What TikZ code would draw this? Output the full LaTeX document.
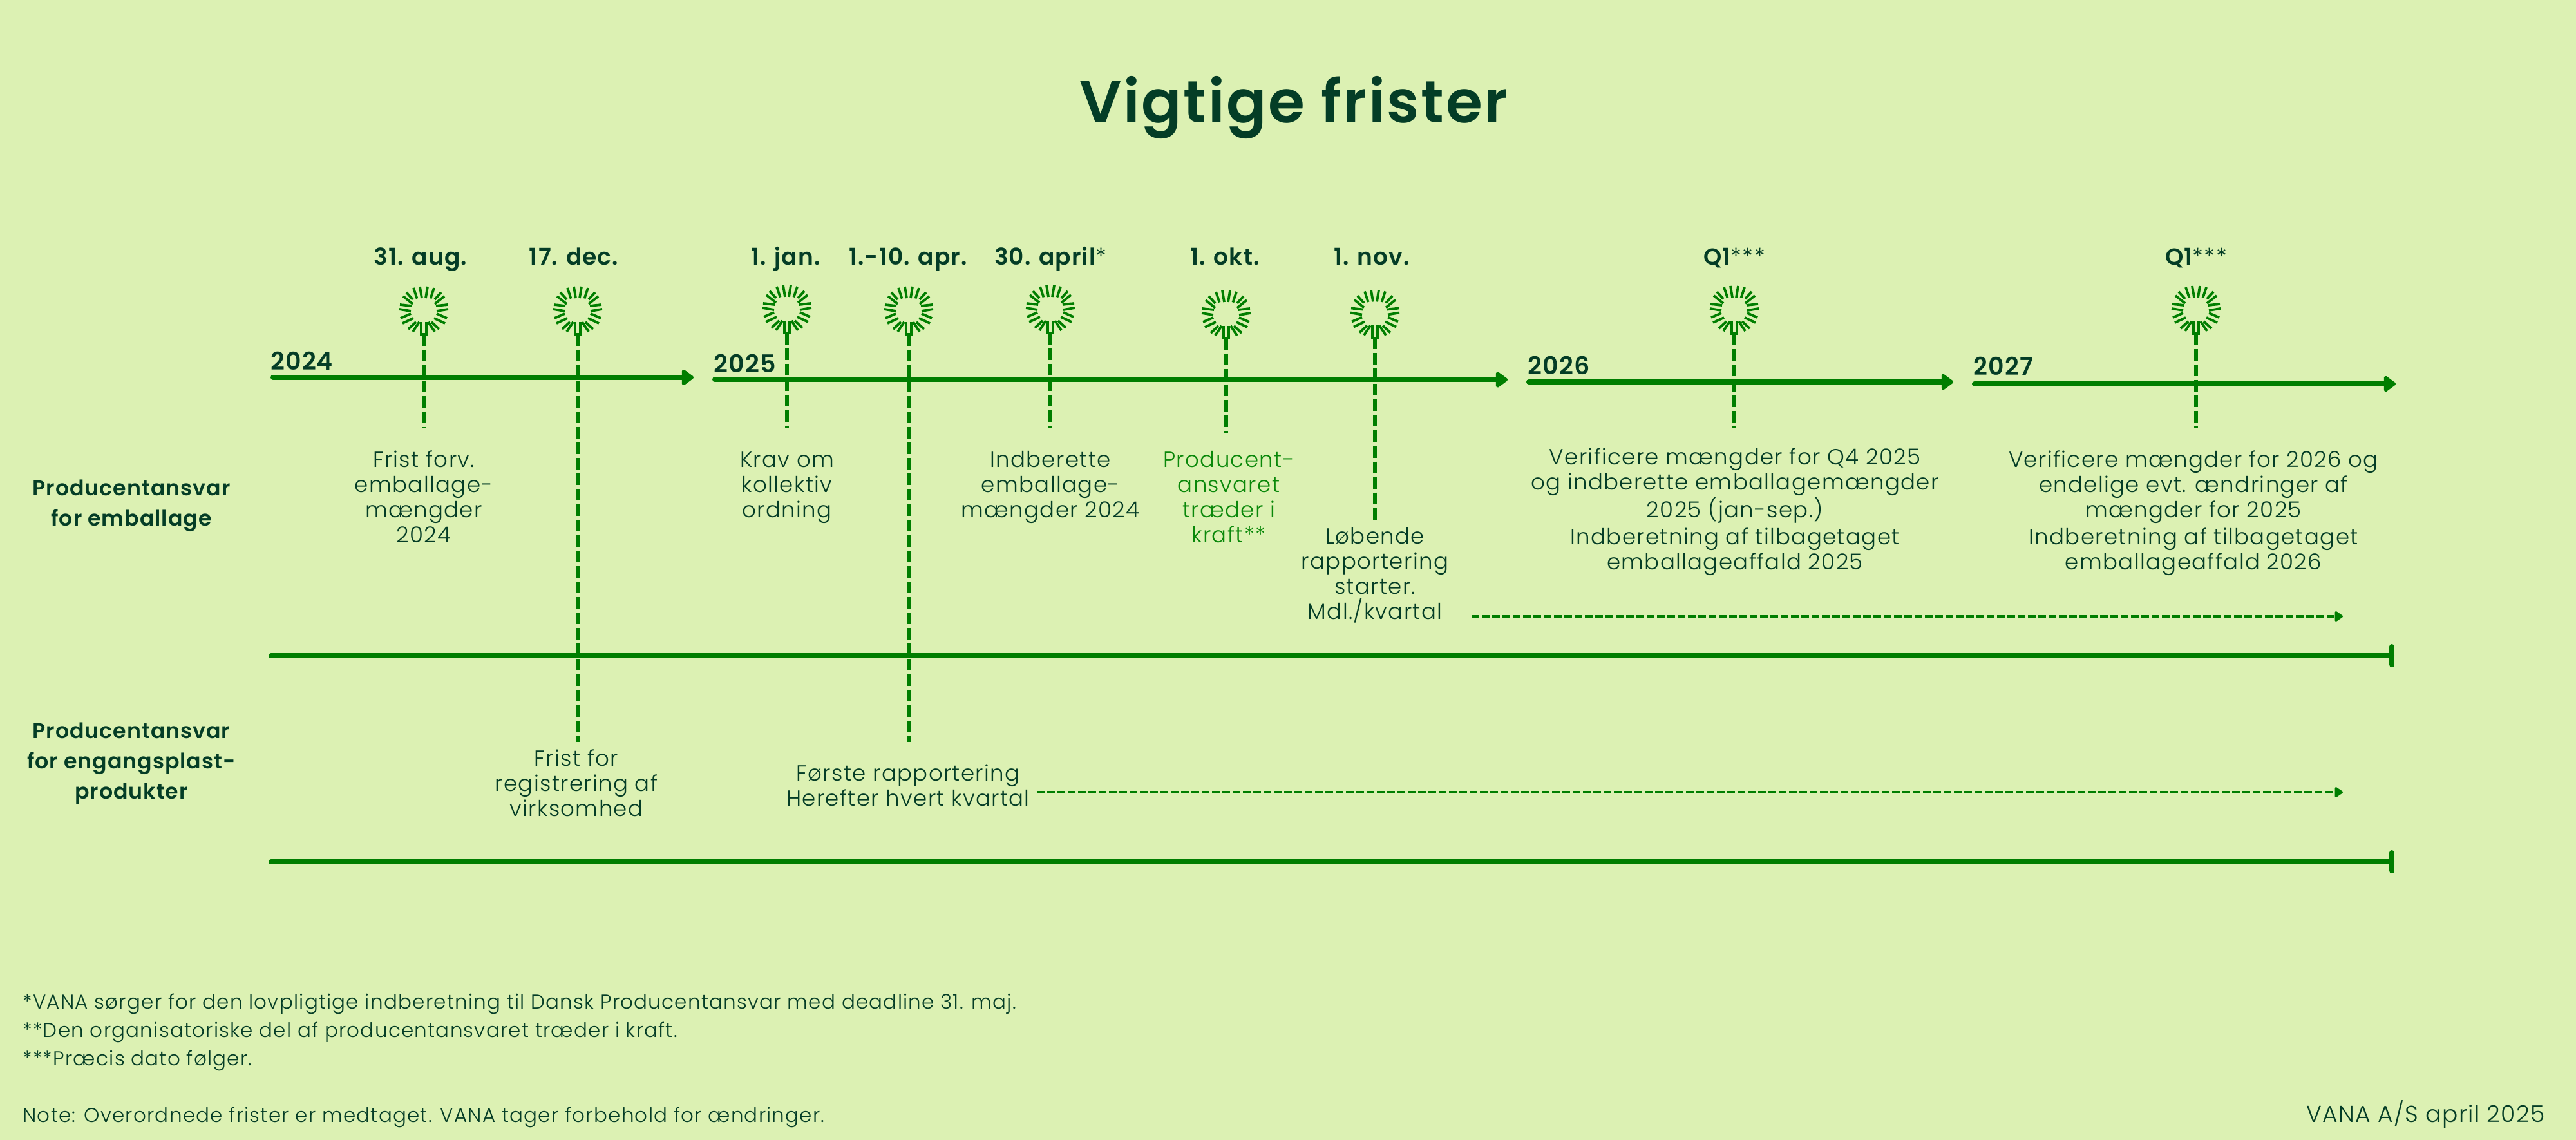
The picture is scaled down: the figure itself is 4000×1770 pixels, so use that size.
\documentclass[tikz,border=0pt]{standalone}
\usepackage{fontspec}
\usetikzlibrary{arrows.meta}
\newfontfamily\bodyfont[LetterSpace=4]{Poppins Light}
\newfontfamily\boldfont[LetterSpace=3]{Poppins SemiBold}
\newfontfamily\titlefont[LetterSpace=3]{Poppins SemiBold}
\definecolor{bgc}{HTML}{DCF1B3}
\definecolor{linec}{HTML}{007E00}
\definecolor{textc}{HTML}{043D26}
\definecolor{gtext}{HTML}{0A880A}
\tikzset{
  mainline/.style={draw=linec,line width=4pt},
  rayline/.style={draw=linec,line width=1.9pt},
  stemline/.style={draw=linec,line width=3pt,dash pattern=on 9pt off 3pt},
  dashline/.style={draw=linec,line width=2.3pt,dash pattern=on 6pt off 2pt,-{Triangle[length=7pt,width=9pt,round]}},
  headline/.style={mainline,line cap=round,-{Triangle[length=10pt,width=14pt,round]}},
  bodytext/.style={text=textc,font=\bodyfont\fontsize{17}{19.5}\selectfont,align=center,inner sep=0pt,anchor=base},
  greentext/.style={bodytext,text=gtext},
  datetext/.style={text=textc,font=\boldfont\fontsize{18}{19.5}\selectfont,inner sep=0pt,anchor=base},
  yeartext/.style={text=textc,font=\boldfont\fontsize{19}{19.5}\selectfont,inner sep=0pt,anchor=base west},
  sidetext/.style={text=textc,font=\boldfont\fontsize{16.6}{23.5}\selectfont,align=center,inner sep=0pt,anchor=base},
  notetext/.style={text=textc,font=\bodyfont\fontsize{15.5}{22}\selectfont,align=left,inner sep=0pt,anchor=base west},
}
\newcommand{\sunmark}[4]{% name, x, y, stem end y
  \begin{scope}[shift={(#2,#3)}]
    \foreach \ax/\ay/\bx/\by in {3/-18/6/-36,10.5/-17.5/16/-34,17/-16/27/-27,17/-9/32/-21,19/-6/37/-8,20/2/38/-1,20/6/36/13,16/13/33/21,12/19/24/30,7/19/17/34}{
      \draw[rayline] (\ax,\ay) -- (\bx,\by);
      \draw[rayline] (-\ax,\ay) -- (-\bx,\by);
    }
    \draw[rayline] (-4,19) -- (-4,38) -- (4,38) -- (4,19);
  \end{scope}
  \coordinate (#1-top) at (#2,#3+38);
  \coordinate (#1-end) at (#2,#4);
  \draw[stemline] (#1-top) -- (#1-end);
}
\begin{document}
\begin{tikzpicture}[x=0.5pt,y=-0.5pt]
\fill[bgc] (0,0) rectangle (4000,1770);
\useasboundingbox (0,0) rectangle (4000,1770);

\node[text=textc,font=\titlefont\fontsize{46}{50}\selectfont,inner sep=0pt,anchor=base] (title) at (2009,191) {Vigtige frister};

% timelines
\coordinate (a24) at (424,586); \coordinate (b24) at (1077,586);
\coordinate (a25) at (1110,589.5); \coordinate (b25) at (2341,589.5);
\coordinate (a26) at (2374,593); \coordinate (b26) at (3033,593);
\coordinate (a27) at (3066,596); \coordinate (b27) at (3720,596);
\coordinate (a1) at (421,1018); \coordinate (b1) at (3714,1018);
\coordinate (a2) at (421,1338); \coordinate (b2) at (3714,1338);
\draw[headline] (a24) -- (b24);
\draw[headline] (a25) -- (b25);
\draw[headline] (a26) -- (b26);
\draw[headline] (a27) -- (b27);
\draw[mainline,line cap=round] (a1) -- (b1);
\draw[mainline,line cap=round] (a2) -- (b2);
\draw[mainline,line cap=round] ([yshift=7pt]b1) -- ([yshift=-7pt]b1);
\draw[mainline,line cap=round] ([yshift=7pt]b2) -- ([yshift=-7pt]b2);

% dashed continuation arrows
\coordinate (d1a) at (2285,957); \coordinate (d1b) at (3638,957);
\coordinate (d2a) at (1610,1230); \coordinate (d2b) at (3638,1230);
\draw[dashline] (d1a) -- (d1b);
\draw[dashline] (d2a) -- (d2b);

% markers
\sunmark{s1}{658}{481}{665}
\sunmark{s2}{897}{481}{1152}
\sunmark{s3}{1222}{479}{665}
\sunmark{s4}{1411}{481}{1152}
\sunmark{s5}{1631}{479}{665}
\sunmark{s6}{1904}{487}{673}
\sunmark{s7}{2135}{486.5}{807}
\sunmark{s8}{2693}{480}{665}
\sunmark{s9}{3410}{480}{665}

% years
\node[yeartext] (y24) at (420,575) {2024};
\node[yeartext] (y25) at (1108,579) {2025};
\node[yeartext] (y26) at (2372,582) {2026};
\node[yeartext] (y27) at (3064,583) {2027};

% dates
\node[datetext] (d1) at (653,412) {31. aug.};
\node[datetext] (d2) at (891,412) {17. dec.};
\node[datetext] (d3) at (1220,412) {1. jan.};
\node[datetext] (d4) at (1410,412) {1.-10. apr.};
\node[datetext] (d5) at (1631,412) {30. april{\bodyfont*}};
\node[datetext] (d6) at (1902,412) {1. okt.};
\node[datetext] (d7) at (2130,412) {1. nov.};
\node[datetext] (d8) at (2693,412) {Q1{\bodyfont***}};
\node[datetext] (d9) at (3410,412) {Q1{\bodyfont***}};

% descriptions (the y given is the baseline of the last line)
\node[bodytext] (t1) at (658,842) {Frist forv.\\emballage-\\mængder\\2024};
\node[bodytext] (t3) at (1222,803) {Krav om\\kollektiv\\ordning};
\node[bodytext] (t5) at (1631,803) {Indberette\\emballage-\\mængder 2024};
\node[greentext] (t6) at (1908,842) {Producent-\\ansvaret\\træder i\\kraft**};
\node[bodytext] (t7) at (2135,961) {Løbende\\rapportering\\starter.\\Mdl./kvartal};
\node[bodytext] (t8) at (2694,884) {Verificere mængder for Q4 2025\\og indberette emballagemængder\\2025 (jan-sep.)\\[1.5pt]Indberetning af tilbagetaget\\emballageaffald 2025};
\node[bodytext] (t9) at (3406,884) {Verificere mængder for 2026 og\\endelige evt. ændringer af\\mængder for 2025\\[1.5pt]Indberetning af tilbagetaget\\emballageaffald 2026};
\node[bodytext] (t2) at (895,1267) {Frist  for\\registrering af\\virksomhed};
\node[bodytext] (t4) at (1410,1251) {Første rapportering\\Herefter hvert kvartal};

% side labels
\node[sidetext] (l1) at (204,816) {Producentansvar\\for emballage};
\node[sidetext] (l2) at (204,1240) {Producentansvar\\for engangsplast-\\produkter};

% notes
\node[notetext] (n1) at (35,1654) {*VANA sørger for den lovpligtige indberetning til Dansk Producentansvar med deadline 31. maj.\\**Den organisatoriske del af producentansvaret træder i kraft.\\***Præcis dato følger.};
\node[notetext] (n2) at (35,1742) {Note: Overordnede frister er medtaget. VANA tager forbehold for ændringer.};
\node[text=textc,font=\bodyfont\fontsize{18}{22}\selectfont,inner sep=0pt,anchor=base east] (n3) at (3952,1742) {VANA A/S april 2025};
\end{tikzpicture}
\end{document}
